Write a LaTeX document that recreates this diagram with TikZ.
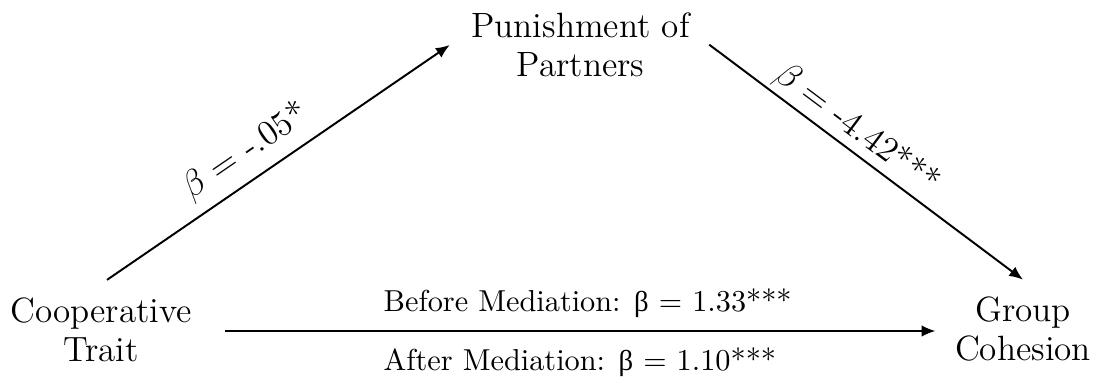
\documentclass[tikz,border=0pt]{standalone}
\usepackage{fontspec}
\newfontfamily\grk[Scale=0.95]{Liberation Serif}
\usetikzlibrary{arrows.meta,calc}
\tikzset{
  mainnode/.style={align=center, inner sep=0pt, font=\fontsize{11.7}{13}\selectfont},
  conn/.style={line width=0.65pt, -{Latex[length=4.6pt,width=3.8pt]}},
  slopelab/.style={sloped, font=\fontsize{11.7}{13}\selectfont},
  horlab/.style={anchor=base west, inner sep=0pt, font=\fontsize{10.1}{12}\selectfont},
}
\begin{document}
\begin{tikzpicture}[x=0.3333pt, y=-0.3333pt]
\useasboundingbox (0,0) rectangle (1098,381);
\node[mainnode] (CT) at (101,329.5) {Cooperative\\Trait};
\node[mainnode] (PP) at (580.5,44.7) {Punishment of\\Partners};
\node[mainnode] (GC) at (1023,329.5) {Group\\Cohesion};
\draw[conn] ($(CT.north)+(6,-17)$) -- node[pos=0.45, above, slopelab] {$\beta =$ -.05*} ($(PP.west)+(-21,0.3)$);
\draw[conn] ($(PP.east)+(19,0)$) -- node[pos=0.43, anchor=south, inner sep=1.2pt, slopelab] {$\beta =$ -4.42***} ($(GC.north)+(0,-17)$);
\draw[conn] ($(CT.east)+(32.5,1.5)$) -- ($(GC.west)+(-19,1.5)$);
\node[horlab] (BM) at (383,311) {Before Mediation: {\grk β} $=$ 1.33***};
\node[horlab] (AM) at (383,370) {After Mediation: {\grk β} $=$ 1.10***};
\end{tikzpicture}
\end{document}
